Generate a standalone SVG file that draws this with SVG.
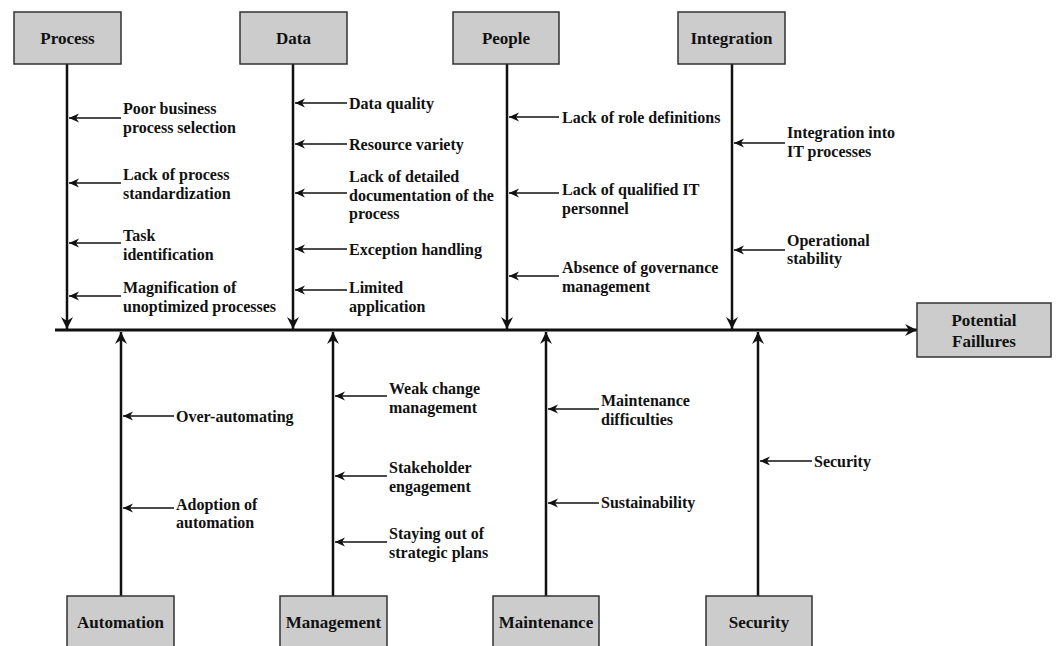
<svg xmlns="http://www.w3.org/2000/svg" width="1057" height="646" viewBox="0 0 1057 646">
<style>
.box{fill:#cccccc;stroke:#333333;stroke-width:1.5}
.lbl{font-family:'Liberation Serif','Times New Roman','DejaVu Serif',serif;font-weight:700;font-size:17px;fill:#111;text-anchor:middle}
.t{font-family:'Liberation Serif','Times New Roman','DejaVu Serif',serif;font-weight:700;font-size:16px;fill:#111}
.main{stroke:#111;stroke-width:2.5;fill:none}
.spine{stroke:#111;stroke-width:3;fill:none}
.sub{stroke:#111;stroke-width:1.5;fill:none}
</style>
<defs>
<marker id="big" markerUnits="userSpaceOnUse" markerWidth="14" markerHeight="14" refX="12" refY="6" orient="auto"><path d="M0,0 L12,6 L0,12 L4,6 z" fill="#111"/></marker>
<marker id="sm" markerUnits="userSpaceOnUse" markerWidth="11" markerHeight="10" refX="10" refY="4.5" orient="auto"><path d="M0,0 L10,4.5 L0,9 L3,4.5 z" fill="#111"/></marker>
</defs>
<rect width="1057" height="646" fill="#ffffff"/>
<g id="connectors">
<path class="spine" d="M55,330 H917" marker-end="url(#big)"/>
<path class="main" d="M67,64 V329" marker-end="url(#big)"/>
<path class="main" d="M293,64 V329" marker-end="url(#big)"/>
<path class="main" d="M507,64 V329" marker-end="url(#big)"/>
<path class="main" d="M732,64 V329" marker-end="url(#big)"/>
<path class="main" d="M121,596 V332" marker-end="url(#big)"/>
<path class="main" d="M333,596 V332" marker-end="url(#big)"/>
<path class="main" d="M546,596 V332" marker-end="url(#big)"/>
<path class="main" d="M758,596 V332" marker-end="url(#big)"/>
<path class="sub" d="M121,118 H69" marker-end="url(#sm)"/>
<path class="sub" d="M121,183 H69" marker-end="url(#sm)"/>
<path class="sub" d="M121,243 H69" marker-end="url(#sm)"/>
<path class="sub" d="M121,296 H69" marker-end="url(#sm)"/>
<path class="sub" d="M347,103 H295" marker-end="url(#sm)"/>
<path class="sub" d="M347,144 H295" marker-end="url(#sm)"/>
<path class="sub" d="M347,193 H295" marker-end="url(#sm)"/>
<path class="sub" d="M347,249 H295" marker-end="url(#sm)"/>
<path class="sub" d="M347,290 H295" marker-end="url(#sm)"/>
<path class="sub" d="M559,117 H509" marker-end="url(#sm)"/>
<path class="sub" d="M559,193 H509" marker-end="url(#sm)"/>
<path class="sub" d="M559,276 H509" marker-end="url(#sm)"/>
<path class="sub" d="M785,143 H734" marker-end="url(#sm)"/>
<path class="sub" d="M785,250 H734" marker-end="url(#sm)"/>
<path class="sub" d="M174,416 H123" marker-end="url(#sm)"/>
<path class="sub" d="M174,508 H123" marker-end="url(#sm)"/>
<path class="sub" d="M387,396 H335" marker-end="url(#sm)"/>
<path class="sub" d="M387,476 H335" marker-end="url(#sm)"/>
<path class="sub" d="M387,542 H335" marker-end="url(#sm)"/>
<path class="sub" d="M599,409 H548" marker-end="url(#sm)"/>
<path class="sub" d="M599,503 H548" marker-end="url(#sm)"/>
<path class="sub" d="M812,461 H760" marker-end="url(#sm)"/>
</g>
<g id="process"><rect class="box" x="14" y="12" width="107" height="52"/><text class="lbl" x="67.5" y="44">Process</text></g>
<g id="data"><rect class="box" x="240" y="12" width="107" height="52"/><text class="lbl" x="293.5" y="44">Data</text></g>
<g id="people"><rect class="box" x="453" y="12" width="106" height="52"/><text class="lbl" x="506" y="44">People</text></g>
<g id="integration"><rect class="box" x="678" y="12" width="107" height="52"/><text class="lbl" x="731.5" y="44">Integration</text></g>
<g id="potential"><rect class="box" x="917" y="303" width="134" height="54"/><text class="lbl" x="984" y="326">Potential</text><text class="lbl" x="984" y="347">Faillures</text></g>
<g id="automation"><rect class="box" x="67" y="596" width="107" height="52"/><text class="lbl" x="120.5" y="628">Automation</text></g>
<g id="management"><rect class="box" x="280" y="596" width="107" height="52"/><text class="lbl" x="333.5" y="628">Management</text></g>
<g id="maintenance"><rect class="box" x="493" y="596" width="106" height="52"/><text class="lbl" x="546" y="628">Maintenance</text></g>
<g id="security"><rect class="box" x="706" y="596" width="106" height="52"/><text class="lbl" x="759" y="628">Security</text></g>
<g id="labels">
<text class="t" x="123" y="114">Poor business</text>
<text class="t" x="123" y="133">process selection</text>
<text class="t" x="123" y="180">Lack of process</text>
<text class="t" x="123" y="199">standardization</text>
<text class="t" x="123" y="241">Task</text>
<text class="t" x="123" y="260">identification</text>
<text class="t" x="123" y="293">Magnification of</text>
<text class="t" x="123" y="312">unoptimized processes</text>
<text class="t" x="349" y="109">Data quality</text>
<text class="t" x="349" y="150">Resource variety</text>
<text class="t" x="349" y="182">Lack of detailed</text>
<text class="t" x="349" y="201">documentation of the</text>
<text class="t" x="349" y="219">process</text>
<text class="t" x="349" y="255">Exception handling</text>
<text class="t" x="349" y="293">Limited</text>
<text class="t" x="349" y="312">application</text>
<text class="t" x="562" y="123">Lack of role definitions</text>
<text class="t" x="562" y="195">Lack of qualified IT</text>
<text class="t" x="562" y="214">personnel</text>
<text class="t" x="562" y="273">Absence of governance</text>
<text class="t" x="562" y="292">management</text>
<text class="t" x="787" y="138">Integration into</text>
<text class="t" x="787" y="157">IT processes</text>
<text class="t" x="787" y="246">Operational</text>
<text class="t" x="787" y="264">stability</text>
<text class="t" x="176" y="422">Over-automating</text>
<text class="t" x="176" y="510">Adoption of</text>
<text class="t" x="176" y="528">automation</text>
<text class="t" x="389" y="394">Weak change</text>
<text class="t" x="389" y="413">management</text>
<text class="t" x="389" y="473">Stakeholder</text>
<text class="t" x="389" y="492">engagement</text>
<text class="t" x="389" y="539">Staying out of</text>
<text class="t" x="389" y="558">strategic plans</text>
<text class="t" x="601" y="406">Maintenance</text>
<text class="t" x="601" y="425">difficulties</text>
<text class="t" x="601" y="508">Sustainability</text>
<text class="t" x="814" y="467">Security</text>
</g>
</svg>
